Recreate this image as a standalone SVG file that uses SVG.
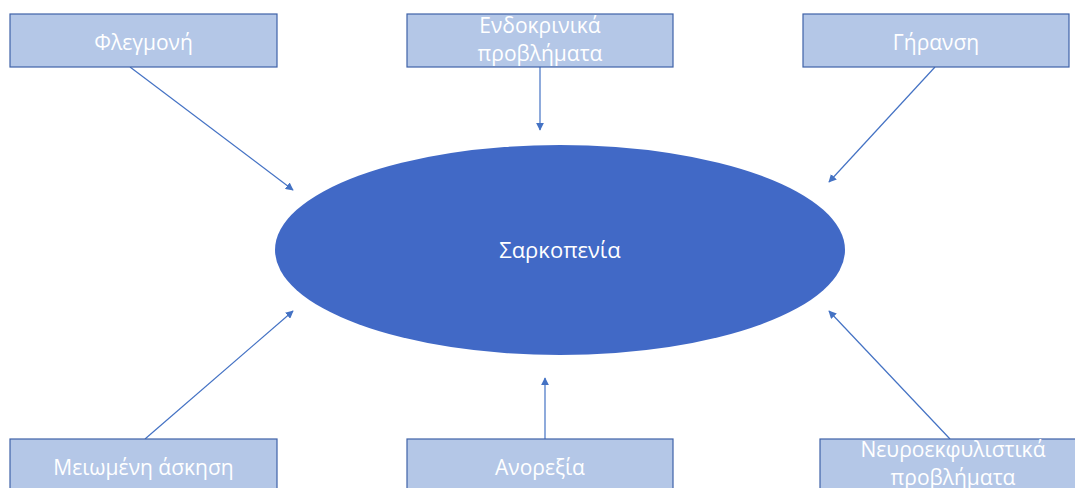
<svg xmlns="http://www.w3.org/2000/svg" width="1075" height="488" viewBox="0 0 1075 488">
<style>
.box{fill:#b4c7e7;stroke:#3f62a8;stroke-width:1.2}
.lbl{font-family:"Open Sans","Noto Sans",sans-serif;font-size:21px;fill:#ffffff;text-anchor:middle}
.big{font-size:22px}
.conn{stroke:#4472c4;stroke-width:1.2;fill:none;marker-end:url(#ah)}
</style>
<defs>
<marker id="ah" viewBox="0 0 10 10" refX="9" refY="5" markerWidth="8" markerHeight="8" markerUnits="userSpaceOnUse" orient="auto">
<path d="M0,0 L10,5 L0,10 z" fill="#4472c4"/>
</marker>
</defs>
<rect width="1075" height="488" fill="#ffffff"/>
<g id="connectors">
<line class="conn" x1="130" y1="67" x2="293" y2="190"/>
<line class="conn" x1="540" y1="67" x2="540" y2="130"/>
<line class="conn" x1="935" y1="67" x2="829" y2="182"/>
<line class="conn" x1="145" y1="439" x2="293" y2="311"/>
<line class="conn" x1="545" y1="439" x2="545" y2="378"/>
<line class="conn" x1="950" y1="439" x2="829" y2="311"/>
</g>
<g id="sarkopenia">
<ellipse cx="560" cy="250" rx="285" ry="105" fill="#4169c6"/>
<text class="lbl big" x="560" y="258">Σαρκοπενία</text>
</g>
<g id="flegmoni">
<rect class="box" x="10" y="14" width="267" height="53"/>
<text class="lbl" x="143.5" y="50">Φλεγμονή</text>
</g>
<g id="endokrinika">
<rect class="box" x="407" y="14" width="266" height="53"/>
<text class="lbl" x="540" y="33">Ενδοκρινικά</text>
<text class="lbl" x="540" y="61">προβλήματα</text>
</g>
<g id="giransi">
<rect class="box" x="803" y="14" width="266" height="53"/>
<text class="lbl" x="936" y="50">Γήρανση</text>
</g>
<g id="meiomeni">
<rect class="box" x="10" y="439" width="267" height="60"/>
<text class="lbl" x="143.5" y="475">Μειωμένη άσκηση</text>
</g>
<g id="anorexia">
<rect class="box" x="407" y="439" width="266" height="60"/>
<text class="lbl" x="540" y="475">Ανορεξία</text>
</g>
<g id="neuro">
<rect class="box" x="820" y="439" width="266" height="60"/>
<text class="lbl" x="953" y="457">Νευροεκφυλιστικά</text>
<text class="lbl" x="953" y="485">προβλήματα</text>
</g>
</svg>
